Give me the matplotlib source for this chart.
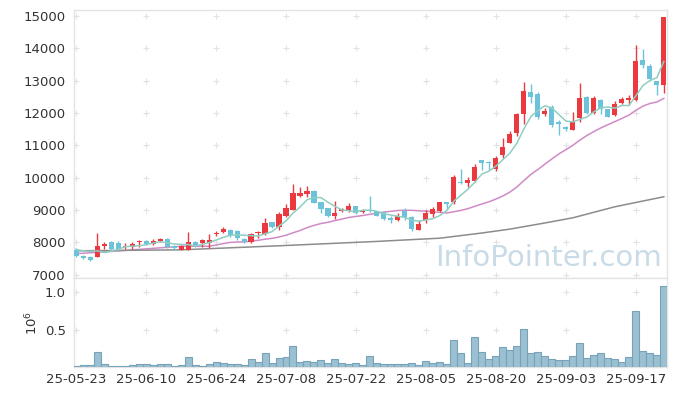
import matplotlib
matplotlib.use("Agg")
import matplotlib.pyplot as plt
import numpy as np
import pandas as pd

# daily OHLC (KRW), 85 trading days from 25-05-23
opens = [7760, 7590, 7545, 7550, 7880, 8000, 7970, 7845, 7865, 8000,
         8030, 7955, 8030, 8110, 7895, 7775, 7760, 8020, 7980, 7990,
         8255, 8330, 8390, 8360, 8120, 8010, 8300, 8265, 8615, 8490,
         8830, 9005, 9440, 9500, 9600, 9250, 9060, 8800, 8985, 8985,
         9110, 8935, 9005, 8955, 8925, 8750, 8700, 8985, 8770, 8390,
         8700, 8875, 8955, 9245, 9260, 9880, 9850, 9910, 10530, 10490,
         10270, 10700, 11080, 11370, 11960, 12645, 12590, 11970, 12195, 11710,
         11580, 11475, 11835, 12485, 12010, 12400, 12115, 11940, 12320, 12400,
         12400, 13635, 13450, 13000, 12865]
highs = [7820, 7620, 7580, 8290, 8020, 8030, 8040, 7990, 8020, 8080,
         8060, 8120, 8150, 8130, 7915, 7920, 8330, 8040, 8110, 8250,
         8340, 8480, 8410, 8390, 8140, 8300, 8360, 8750, 8640, 8950,
         9190, 9800, 9725, 9730, 9610, 9250, 9060, 9280, 9055, 9230,
         9130, 9020, 9440, 8960, 8925, 8820, 8920, 9050, 8820, 8700,
         9010, 9100, 9260, 9250, 10090, 10280, 10010, 10420, 10560, 10510,
         10680, 11220, 11450, 12000, 12950, 12890, 12650, 12145, 12250, 11770,
         11600, 12040, 12935, 12520, 12530, 12420, 12120, 12370, 12480, 12560,
         14100, 13965, 13510, 13000, 14970]
lows = [7550, 7480, 7420, 7540, 7790, 7740, 7740, 7790, 7800, 7870,
        7930, 7930, 8010, 7820, 7750, 7770, 7750, 7860, 7870, 7840,
        8200, 8300, 8170, 8060, 7990, 7990, 8130, 8230, 8430, 8390,
        8780, 9000, 9400, 9400, 9230, 8920, 8790, 8720, 8950, 8950,
        8880, 8920, 8940, 8820, 8690, 8590, 8660, 8700, 8340, 8380,
        8600, 8780, 8940, 9010, 9200, 9810, 9725, 9880, 10240, 10250,
        10210, 10610, 11060, 11300, 11660, 12300, 11800, 11900, 11570, 11320,
        11450, 11460, 11730, 11980, 11970, 11980, 11870, 11900, 12270, 12240,
        12370, 13380, 12990, 12555, 12605]
closes = [7580, 7530, 7470, 7890, 7950, 7800, 7800, 7895, 7965, 8030,
          7950, 8050, 8090, 7845, 7815, 7895, 8020, 7880, 8080, 8080,
          8305, 8410, 8225, 8150, 8010, 8255, 8330, 8595, 8460, 8880,
          9060, 9520, 9530, 9590, 9230, 9045, 8800, 8905, 9025, 9110,
          8905, 9005, 8955, 8830, 8730, 8700, 8820, 8770, 8410, 8565,
          8905, 9025, 9245, 9190, 10015, 9830, 9930, 10340, 10450, 10450,
          10600, 10940, 11350, 11970, 12680, 12500, 11885, 12070, 11630, 11660,
          11500, 11750, 12455, 12010, 12455, 12115, 11885, 12265, 12420, 12455,
          13605, 13480, 13040, 12865, 14950]
volumes = [0.02, 0.03, 0.03, 0.20, 0.04, 0.016, 0.016, 0.016, 0.03, 0.04,
           0.04, 0.03, 0.04, 0.04, 0.016, 0.03, 0.136, 0.03, 0.016, 0.04,
           0.069, 0.056, 0.04, 0.04, 0.03, 0.11, 0.069, 0.19, 0.056, 0.12,
           0.136, 0.29, 0.069, 0.083, 0.069, 0.096, 0.056, 0.11, 0.056, 0.04,
           0.056, 0.03, 0.15, 0.056, 0.04, 0.04, 0.04, 0.04, 0.056, 0.03,
           0.083, 0.056, 0.069, 0.04, 0.36, 0.19, 0.056, 0.40, 0.20, 0.11,
           0.15, 0.27, 0.23, 0.28, 0.51, 0.19, 0.20, 0.15, 0.11, 0.096,
           0.096, 0.15, 0.32, 0.12, 0.16, 0.19, 0.12, 0.11, 0.069, 0.136,
           0.75, 0.216, 0.19, 0.16, 1.09]
volumes = [v * 1e6 for v in volumes]

# moving averages before enough history is visible
ma5_head = [7780, 7740, 7720, 7740]
ma20_head_idx = [0, 5, 10, 15]
ma20_head = [7650, 7720, 7800, 7880]
ma60_idx = [0, 15, 29, 43, 52, 58, 62, 67, 71, 77, 84]
ma60_vals = [7740, 7770, 7895, 8030, 8130, 8290, 8410, 8600, 8760, 9100, 9410]

tick_idx = [0, 10, 20, 30, 40, 50, 60, 70, 80]
tick_labels = ['25-05-23', '25-06-10', '25-06-24', '25-07-08', '25-07-22',
               '25-08-05', '25-08-20', '25-09-03', '25-09-17']

UP = '#ea3a3f'
DOWN = '#6cc2d9'
GRIDC = '#e2e2e2'
SPINE = '#e4e4e4'
TXT = '#333333'

plt.rcParams['font.family'] = ['DejaVu Sans']

fig = plt.figure(figsize=(6.77, 3.96), dpi=100)
ax = fig.add_axes([0.1093, 0.2980, 0.8759, 0.6768])
axv = fig.add_axes([0.1093, 0.0720, 0.8759, 0.2260], sharex=ax)

x = np.arange(len(closes))
o = np.array(opens)
c = np.array(closes)
up = c >= o
colors = np.where(up, UP, DOWN)

# wicks + bodies
ax.vlines(x, lows, highs, colors=colors, linewidth=1.0, zorder=3)
body_bottom = np.minimum(o, c)
body_h = np.maximum(np.abs(c - o), 15)
ax.bar(x, body_h, bottom=body_bottom, width=0.72, color=colors, zorder=4, linewidth=0)

# moving averages
s = pd.Series(closes)
ma5 = s.rolling(5).mean()
ma20 = s.rolling(20).mean()
ax.plot(list(range(4)) + list(x[4:]), ma5_head + list(ma5[4:]),
        color='#8fcfc3', linewidth=1.1, zorder=5)
ax.plot(ma20_head_idx + list(x[19:]), ma20_head + list(ma20[19:]),
        color='#d08ac6', linewidth=1.1, zorder=2)
ax.plot(ma60_idx, ma60_vals, color='#8c8c8c', linewidth=1.1, zorder=2)

ax.set_xlim(-0.3, 84.45)
ax.set_ylim(6900, 15180)
yt = list(range(7000, 15001, 1000))
ax.set_yticks(yt)
ax.set_yticklabels([str(v) for v in yt])
ax.tick_params(axis='y', length=0, pad=6, labelsize=9.5, labelcolor=TXT)
ax.tick_params(axis='x', length=0, labelbottom=False)

# volume
axv.bar(x, volumes, width=1.0, color='#9bc0d1', edgecolor='#76a3b9', linewidth=0.8, zorder=3)
axv.set_ylim(0, 1.19e6)
axv.set_yticks([0.5e6, 1.0e6])
axv.set_yticklabels(['0.5', '1.0'])
axv.set_xticks(tick_idx)
axv.set_xticklabels(tick_labels)
axv.tick_params(axis='y', length=0, pad=6, labelsize=9.5, labelcolor=TXT)
axv.tick_params(axis='x', length=0, pad=4, labelsize=9.5, labelcolor=TXT)
axv.set_ylabel(r'$10^6$', fontsize=9.5, color=TXT, labelpad=3)

for a in (ax, axv):
    for sp in a.spines.values():
        sp.set_color(SPINE)
        sp.set_linewidth(1.0)
    a.set_facecolor('white')

# grid crosses at tick intersections
gx, gy = np.meshgrid(tick_idx, yt)
ax.plot(gx.ravel(), gy.ravel(), '+', color=GRIDC, markersize=4, mew=0.8, zorder=1, clip_on=False)
gx, gy = np.meshgrid(tick_idx, [0.5e6, 1.0e6])
axv.plot(gx.ravel(), gy.ravel(), '+', color=GRIDC, markersize=4, mew=0.8, zorder=1, clip_on=False)

ax.text(0.80, 0.075, 'InfoPointer.com', transform=ax.transAxes, ha='center', va='center',
        fontsize=21, color='#c8dbe6', zorder=0)

fig.savefig('out.png', dpi=100)
